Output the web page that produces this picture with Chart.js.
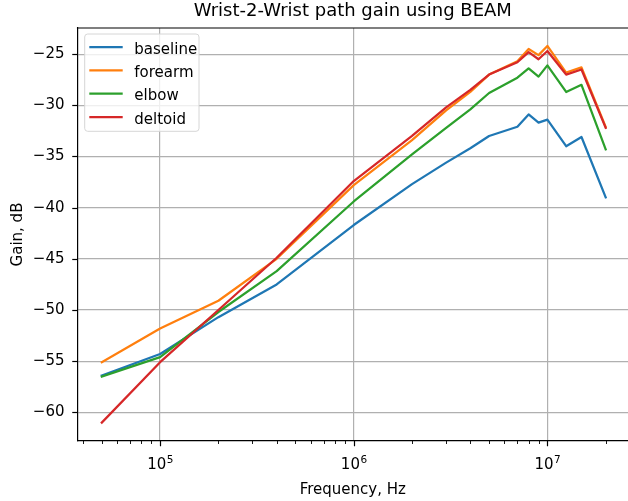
<!DOCTYPE html>
<html>
<head>
<meta charset="utf-8">
<script src="https://cdn.jsdelivr.net/npm/chart.js@4.4.0/dist/chart.umd.min.js"></script>
<style>
  html, body { margin: 0; padding: 0; background: #fff; overflow: hidden; }
</style>
</head>
<body>
<canvas id="gainChart" width="628" height="501"></canvas>
<script>
// Frequencies, Hz
const freqs = [5e4, 1e5, 2e5, 4e5, 1e6, 2e6, 3e6, 4e6, 5e6, 7e6, 8e6, 9e6, 1e7, 1.25e7, 1.5e7, 2e7];

// Gain, dB per electrode placement
const baseline = [-56.4, -54.3, -50.7, -47.5, -41.7, -37.7, -35.6, -34.2, -33.0, -32.1, -30.9, -31.7, -31.4, -34.0, -33.1, -39.0];
const forearm  = [-55.1, -51.8, -49.1, -45.0, -37.8, -33.4, -30.5, -28.7, -27.0, -25.7, -24.5, -25.1, -24.2, -26.8, -26.3, -32.1];
const elbow    = [-56.5, -54.6, -50.2, -46.2, -39.4, -34.8, -32.2, -30.4, -28.8, -27.3, -26.4, -27.2, -26.1, -28.7, -28.0, -34.3];
const deltoid  = [-61.0, -55.1, -50.0, -44.9, -37.4, -33.0, -30.2, -28.5, -27.0, -25.8, -24.8, -25.5, -24.7, -27.0, -26.5, -32.2];

const seriesNames = ['baseline', 'forearm', 'elbow', 'deltoid'];
const seriesColors = ['#1f77b4', '#ff7f0e', '#2ca02c', '#d62728'];

// Tick values and labels
const yTicks = [-60, -55, -50, -45, -40, -35, -30, -25];
const xMajorTicks = [1e5, 1e6, 1e7];
const xLabelBase = '10';
const xLabelExp = ['5', '6', '7'];

// axis limits (matplotlib-like margins)
const X_MIN = Math.pow(10, 4.5735);
const X_MAX = Math.pow(10, 7.4163);
const Y_MIN = -62.8;
const Y_MAX = -22.45;

const FONT = '"DejaVu Sans", sans-serif';
Chart.defaults.font.family = FONT;
Chart.defaults.color = '#000';

// minor log ticks 2..9 x 10^k inside the range
const xMinorTicks = [];
[1e4, 1e5, 1e6, 1e7].forEach(d => {
    for (let m = 2; m <= 9; m++) {
        const v = m * d;
        if (v > X_MIN && v < X_MAX) xMinorTicks.push(v);
    }
});
const xAllTicks = xMajorTicks.concat(xMinorTicks).sort((a, b) => a - b);

// ticks, top spine, 10^n labels
const tickMarks = {
    id: 'tickMarks',
    afterDraw(chart) {
        const { ctx, chartArea: a, scales: { x, y } } = chart;
        ctx.save();
        ctx.strokeStyle = '#000';
        ctx.lineWidth = 1.2;
        ctx.beginPath();
        ctx.moveTo(a.left - 0.6, a.top);
        ctx.lineTo(a.right, a.top);
        ctx.stroke();
        y.ticks.forEach(t => {
            const py = Math.round(y.getPixelForValue(t.value)) + 0.5;
            ctx.beginPath();
            ctx.moveTo(a.left, py);
            ctx.lineTo(a.left - 5.25, py);
            ctx.stroke();
        });
        x.ticks.forEach(t => {
            const px = Math.round(x.getPixelForValue(t.value)) + 0.5;
            const major = xMajorTicks.includes(t.value);
            ctx.lineWidth = major ? 1.2 : 0.9;
            ctx.beginPath();
            ctx.moveTo(px, a.bottom);
            ctx.lineTo(px, a.bottom + (major ? 5.25 : 3));
            ctx.stroke();
        });

        // major labels with a real superscript
        ctx.fillStyle = '#000';
        ctx.textBaseline = 'alphabetic';
        ctx.textAlign = 'left';
        const baseFont = '15px ' + FONT, expFont = '10.5px ' + FONT;
        xMajorTicks.forEach((v, i) => {
            const px = x.getPixelForValue(v);
            ctx.font = baseFont;
            const wb = ctx.measureText(xLabelBase).width;
            ctx.font = expFont;
            const we = ctx.measureText(xLabelExp[i]).width;
            const left = px - (wb + we) / 2;
            const by = a.bottom + 27.5;
            ctx.font = baseFont;
            ctx.fillText(xLabelBase, left, by);
            ctx.font = expFont;
            ctx.fillText(xLabelExp[i], left + wb + 0.5, by - 6);
        });
        ctx.restore();
    }
};

// legend box in the upper left corner of the plot
const boxLegend = {
    id: 'boxLegend',
    afterDraw(chart) {
        const { ctx, chartArea: a } = chart;
        const x0 = a.left + 7.2, y0 = a.top + 6, w = 114.3, h = 97.3;
        ctx.save();
        ctx.beginPath();
        ctx.roundRect(x0, y0, w, h, 3);
        ctx.fillStyle = 'rgba(255,255,255,0.8)';
        ctx.fill();
        ctx.strokeStyle = '#d6d6d6';
        ctx.lineWidth = 1;
        ctx.stroke();
        ctx.font = '15px ' + FONT;
        ctx.textBaseline = 'alphabetic';
        chart.data.datasets.forEach((ds, i) => {
            const cy = y0 + 13 + i * 23.35;
            ctx.strokeStyle = ds.borderColor;
            ctx.lineWidth = 2.25;
            ctx.beginPath();
            ctx.moveTo(x0 + 4.6, cy);
            ctx.lineTo(x0 + 38, cy);
            ctx.stroke();
            ctx.fillStyle = '#000';
            ctx.fillText(ds.label, x0 + 49.6, cy + 6.5);
        });
        ctx.restore();
    }
};

const allSeries = [baseline, forearm, elbow, deltoid];

const datasets = allSeries.map((vals, i) => ({
    label: seriesNames[i],
    data: freqs.map((f, k) => ({ x: f, y: vals[k] })),
    borderColor: seriesColors[i],
    backgroundColor: seriesColors[i],
    borderWidth: 2.25,
    borderJoinStyle: 'round',
    borderCapStyle: 'square',
    pointRadius: 0,
    tension: 0,
    fill: false,
    order: allSeries.length - 1 - i
}));

const ctx = document.getElementById('gainChart').getContext('2d');

const gainChart = new Chart(ctx, {
    type: 'line',
    data: { datasets: datasets },
    options: {
        responsive: false,
        animation: false,
        devicePixelRatio: 1,
        layout: { padding: 0 },
        plugins: {
            legend: { display: false },
            tooltip: { enabled: false },
            title: {
                display: true,
                text: 'Wrist-2-Wrist path gain using BEAM',
                fullSize: false,
                color: '#000',
                font: { size: 18, weight: 'normal', family: FONT },
                padding: { top: 1, bottom: 5.4 }
            }
        },
        scales: {
            x: {
                type: 'logarithmic',
                position: 'bottom',
                min: X_MIN,
                max: X_MAX,
                afterBuildTicks: s => { s.ticks = xAllTicks.map(v => ({ value: v })); },
                afterFit: s => { s.height = 60; },
                ticks: { display: false, autoSkip: false, maxRotation: 0 },
                grid: {
                    drawTicks: false,
                    lineWidth: 1.2,
                    color: c => (c.tick && xMajorTicks.includes(c.tick.value)) ? '#b0b0b0' : 'rgba(0,0,0,0)'
                },
                border: { display: true, color: '#000', width: 1.2 },
                title: {
                    display: true,
                    text: 'Frequency, Hz',
                    color: '#000',
                    font: { size: 15 },
                    padding: { top: 0, bottom: 2.2 }
                }
            },
            y: {
                type: 'linear',
                min: Y_MIN,
                max: Y_MAX,
                afterBuildTicks: s => { s.ticks = yTicks.map(v => ({ value: v })); },
                afterFit: s => { s.width = 77.5; },
                ticks: {
                    padding: 13,
                    color: '#000',
                    font: { size: 15 },
                    callback: v => String(v).replace('-', '\u2212')
                },
                grid: { drawTicks: false, lineWidth: 1.2, color: '#b0b0b0' },
                border: { display: true, color: '#000', width: 1.2 },
                title: {
                    display: true,
                    text: 'Gain, dB',
                    color: '#000',
                    font: { size: 15 },
                    padding: { top: 9, bottom: 0 }
                }
            }
        }
    },
    plugins: [tickMarks, boxLegend]
});
</script>
</body>
</html>
